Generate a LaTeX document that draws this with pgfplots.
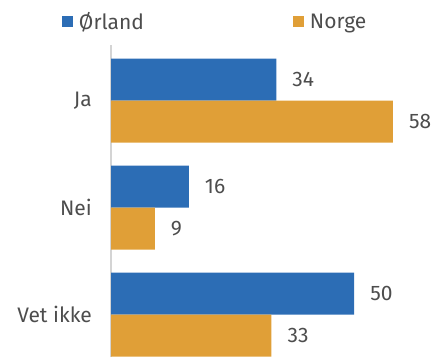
\documentclass[border=0pt]{standalone}
\usepackage{pgfplots}
\pgfplotsset{compat=1.18}
\usepackage{fontspec}
\setmainfont{Fira Sans}
\definecolor{cblue}{HTML}{2C6DB5}
\definecolor{corange}{HTML}{E09F37}
\definecolor{ctext}{HTML}{4D4D4D}
\definecolor{caxis}{HTML}{D4D4D4}
\newcommand{\cf}{\fontsize{21bp}{25bp}\selectfont}
\begin{document}
\begin{tikzpicture}
\useasboundingbox (0,0) rectangle (440bp,363bp);
\begin{axis}[
  at={(111bp,6bp)}, anchor=south west, scale only axis,
  width=291.7bp, height=312bp,
  xbar, bar width=42bp,
  xmin=0, xmax=60, ymin=-0.397, ymax=2.519,
  axis x line=none, axis y line*=left,
  y axis line style={caxis, line width=1.5bp},
  ytick={0,1,2}, yticklabels={Vet ikke, Nei, Ja},
  major tick length=0pt,
  yticklabel style={ctext, font=\cf, inner sep=0pt, xshift=-19bp},
  /pgf/number format/assume math mode=true,
  nodes near coords,
  nodes near coords style={ctext, font=\cf, anchor=west, inner sep=0pt, xshift=16bp},
  legend image code/.code={\fill[#1] (0bp,-5.5bp) rectangle (11bp,5.5bp);},
  legend entries={\hspace{6bp}\makebox[214bp][l]{Ørland}, \hspace{6bp}Norge},
  legend style={at={(-0.168,1.074)}, anchor=west, draw=none, fill=none,
    inner sep=0pt, outer sep=0pt, legend columns=2, font=\cf,
    text=ctext, nodes={inner sep=0pt}},
]
\addplot[fill=cblue, draw=none, bar shift=21bp] coordinates {(34,2) (16,1) (50,0)};
\addplot[fill=corange, draw=none, bar shift=-21bp] coordinates {(58,2) (9,1) (33,0)};
\end{axis}
\end{tikzpicture}
\end{document}
